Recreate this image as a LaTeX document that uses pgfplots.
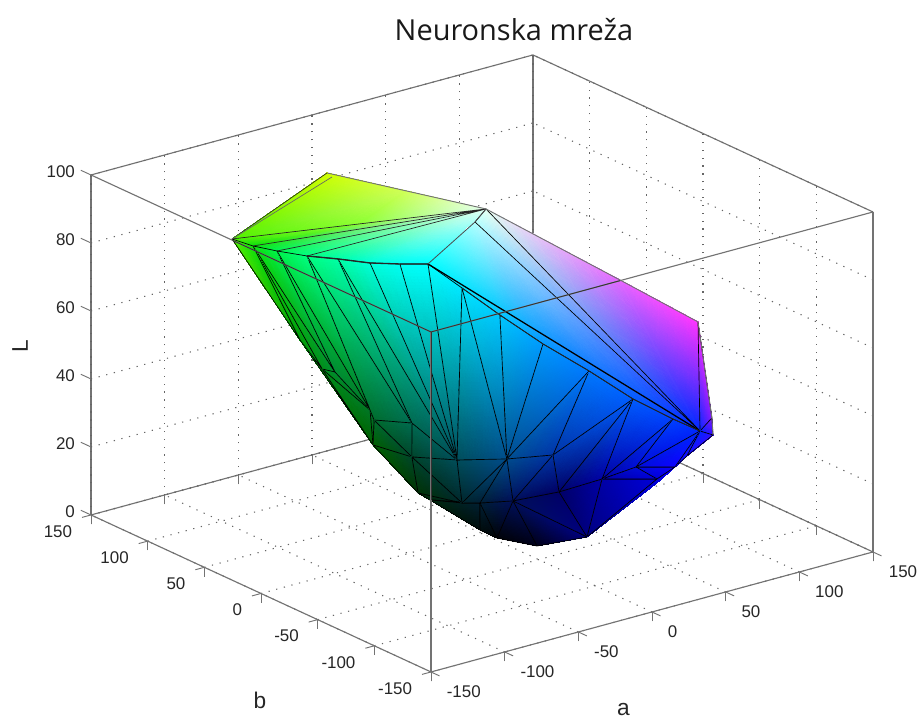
\documentclass[border=0pt]{standalone}
\usepackage{fontspec}
\setmainfont{Liberation Sans}
\newfontfamily\titlefont{Open Sans}
\usepackage{pgfplots}
\usepackage{pgfplotstable}
\usepgfplotslibrary{patchplots}
\pgfplotsset{compat=1.18}
\pgfplotstableread[row sep=\\]{
x y z c\\
-111.2 76.0 88 rgb=.32,.95,0\\
-37.8 87.6 97 rgb=.82,1,0\\
3.1 0.5 95 rgb=.9,1,.95\\
-4.2 0.7 92 rgb=.7,1,1\\
-41.1 -5.8 85 rgb=0,1,1\\
-96.1 77.1 84 rgb=.05,.88,.05\\
-84.2 71.4 82 rgb=0,.95,.3\\
-76 55.6 82 rgb=0,1,.5\\
-65.5 41.9 82 rgb=0,1,.65\\
-58.7 22.5 83 rgb=0,1,.85\\
-50 7.4 84 rgb=0,1,.95\\
-33.1 -25.4 80 rgb=0,.9,1\\
-16.7 -37.5 72 rgb=0,.78,1\\
0.1 -53.7 64 rgb=0,.6,1\\
23.1 -64.4 55 rgb=0,.47,1\\
41.1 -79.8 47 rgb=0,.36,1\\
61.7 -88.3 40 rgb=0,.25,1\\
77.9 -91.1 35 rgb=0,.15,1\\
89.2 -87.9 32 rgb=.2,.05,1\\
99.3 -61.5 60 rgb=1,.2,1\\
67 -34.6 72 rgb=.9,.4,1\\
85.6 -91.6 38 rgb=.5,.1,1\\
-52.8 -46.6 35 rgb=0,.3,.35\\
-21.1 -49.4 32 rgb=0,.3,.55\\
14.9 -43.3 28 rgb=0,.2,.65\\
38.8 -55.5 20 rgb=0,0,.65\\
48.7 -72.6 25 rgb=0,.05,.85\\
65.4 -85.3 25 rgb=.05,0,1\\
62.3 -73.4 20 rgb=0,0,.85\\
5.6 -20.1 12 rgb=0,.06,.35\\
27.3 -32.5 14 rgb=0,0,.4\\
-4.1 -3.6 10 rgb=0,.12,.2\\
-11.8 2.3 10 rgb=0,.15,.17\\
-27.6 20.5 12 rgb=0,.2,.02\\
-16.4 24.6 8 rgb=0,.15,.05\\
-3.9 -3.3 2 rgb=0,.05,.05\\
-0.9 -14.4 1 rgb=0,.01,.03\\
2.5 -45.3 3 rgb=0,0,.1\\
25.9 -59 5 rgb=0,0,.5\\
83.8 -71.9 24 rgb=.1,.05,1\\
-33.9 52.1 22 rgb=0,.38,0\\
-15.8 41.3 18 rgb=0,.27,.17\\
-22.1 33.1 30 rgb=0,.42,.32\\
-41.8 40.9 32 rgb=0,.42,.18\\
-43.7 42 35 rgb=0,.46,.15\\
-55 58.3 45 rgb=0,.55,.2\\
-64 57.9 47 rgb=0,.55,.1\\
-71.8 67.3 55 rgb=0,.62,.03\\
-17.35 44.05 96 rgb=.82,1,.35\\
-54.05 38.25 91.5 rgb=.55,1,.2\\
61.7 -74.1 19 rgb=0,0,.85\\
}\vertices
\definecolor{boxgray}{gray}{0.45}
\begin{document}
\begin{tikzpicture}
\useasboundingbox (0,0) rectangle (691.5pt,541.5pt);
\begin{axis}[
  at={(361.5pt,141.4pt)}, anchor=origin,
  x={(1.105pt,0.300pt)}, y={(-0.850pt,0.3925pt)}, z={(0pt,2.55pt)},
  xmin=-150,xmax=150,ymin=-150,ymax=150,zmin=0,zmax=100,
  xtick={-150,-100,...,150}, ytick={-150,-100,...,150}, ztick={0,20,...,100},
  clip=false,
  grid=major,
  grid style={black!60,line width=0.8pt,dash pattern=on 0.9pt off 5pt},
  axis line style={boxgray,line width=0.85pt},
  tick style={boxgray,line width=0.7pt},
  major tick length=7pt,
  tick align=outside,
  tick pos=left,
  ztick style={draw=none},
  ticklabel style={font=\fontsize{12.7}{14}\selectfont,text=black!85},
  xticklabel style={anchor=west,xshift=2pt,yshift=-11.5pt},
  yticklabel style={anchor=east,xshift=-3.9pt,yshift=-10.5pt},
  zticklabel style={xshift=-2.2pt,yshift=-1.4pt},
  /pgf/number format/assume math mode=true,
  axis on top=false,
]
\addplot3[patch, shader=interp, table/row sep=\\,
  mesh/color input=explicit,
  point meta=explicit symbolic,
  patch table={0 1 48\\0 48 49\\49 48 2\\0 49 5\\49 2 5\\5 2 6\\6 2 7\\3 4 11\\3 11 12\\3 12 13\\3 13 14\\3 14 15\\3 15 16\\3 16 17\\20 17 19\\2 17 20\\7 2 8\\8 2 9\\9 2 10\\10 2 4\\38 50 28\\28 50 27\\}
] table[x=x,y=y,z=z,meta=c] {\vertices};
\addplot3[patch, shader=faceted interp, table/row sep=\\,
  faceted color=black, line width=0.5pt,
  mesh/color input=explicit,
  point meta=explicit symbolic,
  patch table={2 3 17\\19 17 21\\21 17 18\\0 5 47\\5 46 47\\5 45 46\\5 6 45\\6 44 45\\6 7 44\\7 43 44\\7 42 43\\7 8 42\\8 22 42\\8 9 22\\9 10 22\\10 4 22\\4 11 22\\11 23 22\\11 12 23\\12 13 23\\13 14 23\\14 24 23\\14 15 24\\15 30 24\\15 25 30\\15 16 25\\16 26 25\\16 17 26\\17 27 26\\17 39 27\\17 18 39\\47 46 40\\46 44 40\\44 43 40\\43 41 40\\43 42 41\\42 22 41\\41 22 32\\41 32 33\\40 41 33\\33 32 34\\34 32 31\\34 31 35\\31 36 35\\31 29 36\\29 37 36\\22 23 32\\32 23 31\\31 23 29\\23 24 29\\29 24 30\\29 30 38\\29 38 37\\30 25 38\\25 28 38\\25 26 28\\26 27 28\\46 45 44\\}
] table[x=x,y=y,z=z,meta=c] {\vertices};
% fan from the light vertex and outline of the top face
\addplot3[black!85,line width=0.5pt] table[row sep=\\,x=x,y=y,z=z] {x y z\\-37.8 87.6 97\\-111.2 76.0 88\\3.1 0.5 95\\-96.1 77.1 84\\3.1 0.5 95\\-84.2 71.4 82\\3.1 0.5 95\\-76 55.6 82\\};
\addplot3[boxgray,line width=0.7pt] table[row sep=\\,x=x,y=y,z=z] {x y z\\-37.8 87.6 97\\3.1 0.5 95\\};
\addplot3[black!60,line width=0.5pt] table[row sep=\\,x=x,y=y,z=z] {x y z\\-111.2 76.0 88\\-36.3 85.2 96\\};
% ridge lines and outline
\addplot3[black,line width=0.95pt] table[row sep=\\,x=x,y=y,z=z] {x y z\\-41.1 -5.8 85\\77.9 -91.1 35\\};
\addplot3[black!85,line width=0.6pt] table[row sep=\\,x=x,y=y,z=z] {x y z\\-33.1 -25.4 80\\-16.7 -37.5 72\\0.1 -53.7 64\\23.1 -64.4 55\\41.1 -79.8 47\\61.7 -88.3 40\\77.9 -91.1 35\\};
\addplot3[black!85,line width=1.0pt] table[row sep=\\,x=x,y=y,z=z] {x y z\\-76 55.6 82\\-65.5 41.9 82\\-58.7 22.5 83\\-50 7.4 84\\-41.1 -5.8 85\\};
\addplot3[black!70,line width=0.6pt] table[row sep=\\,x=x,y=y,z=z] {x y z\\3.1 0.5 95\\-4.2 0.7 92\\-41.1 -5.8 85\\};
\addplot3[boxgray,line width=0.7pt] table[row sep=\\,x=x,y=y,z=z] {x y z\\3.1 0.5 95\\67 -34.6 72\\99.3 -61.5 60\\85.6 -91.6 38\\89.2 -87.9 32\\};
% front edges of the box, seen over the surface
\addplot3[boxgray,line width=0.85pt] coordinates {(-150,150,100) (-150,-150,100) (150,-150,100)};
\addplot3[boxgray,line width=0.85pt] coordinates {(-150,-150,100) (-150,-150,0)};
\addplot3[black!80,line width=0.6pt] coordinates {(-150,25,100) (-150,-150,100) (-21.7,-150,100)};
\addplot3[black!80,line width=0.6pt] coordinates {(-150,-150,100) (-150,-150,50.6)};
% ticks of the L axis
\addplot3[boxgray,line width=0.7pt] coordinates {(-150,150,0) (-150,159,0)};
\addplot3[boxgray,line width=0.7pt] coordinates {(-150,150,20) (-150,159,20)};
\addplot3[boxgray,line width=0.7pt] coordinates {(-150,150,40) (-150,159,40)};
\addplot3[boxgray,line width=0.7pt] coordinates {(-150,150,60) (-150,159,60)};
\addplot3[boxgray,line width=0.7pt] coordinates {(-150,150,80) (-150,159,80)};
\addplot3[boxgray,line width=0.7pt] coordinates {(-150,150,100) (-150,159,100)};
\end{axis}
\node[font=\titlefont\fontsize{21.7}{24}\selectfont,text=black!90] at (385.5pt,519.1pt) {Neuronska mreža};
\node[font=\fontsize{17}{20}\selectfont,text=black!85,rotate=90] at (15pt,282pt) {L};
\node[font=\fontsize{17}{20}\selectfont,text=black!85] at (195pt,16pt) {b};
\node[font=\fontsize{17}{20}\selectfont,text=black!85] at (467.5pt,9pt) {a};
\end{tikzpicture}
\end{document}
